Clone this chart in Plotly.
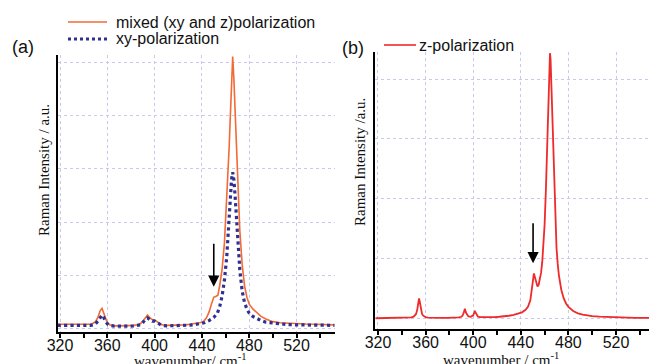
import plotly.graph_objects as go

# ---------------- data: panel (a) ----------------
wn_mixed = [318, 322, 326, 330, 334, 338, 342, 346, 348, 350, 352, 354, 355.5, 357, 358, 360, 362, 366,
            370, 374, 378, 382, 386, 388, 390, 392, 394, 396, 398, 400, 402, 404, 406, 410, 414, 418,
            422, 426, 430, 434, 438, 440, 442, 444, 446, 448, 450, 452, 453.5, 455, 457, 459, 461, 462,
            463, 464, 465, 466, 467, 468, 469, 470, 471, 472, 474, 476, 478, 480, 483, 487, 490, 494,
            500, 506, 512, 520, 528, 536, 544, 552]
int_mixed = [0.07, 0.07, 0.065, 0.06, 0.06, 0.06, 0.06, 0.07, 0.09, 0.12, 0.20, 0.33, 0.37, 0.28, 0.18, 0.10, 0.06, 0.04,
             0.04, 0.04, 0.05, 0.05, 0.06, 0.08, 0.13, 0.20, 0.245, 0.19, 0.16, 0.15, 0.12, 0.08, 0.06, 0.05, 0.05, 0.05,
             0.055, 0.06, 0.07, 0.08, 0.10, 0.11, 0.14, 0.20, 0.30, 0.45, 0.58, 0.60, 0.62, 0.80, 1.10, 1.60, 2.40, 2.90,
             3.40, 4.00, 4.60, 5.12, 4.70, 4.10, 3.50, 2.90, 2.35, 1.85, 1.20, 0.80, 0.58, 0.45, 0.36, 0.28, 0.22, 0.17,
             0.12, 0.10, 0.09, 0.08, 0.075, 0.07, 0.065, 0.06]

wn_xy = [318, 322, 326, 330, 334, 338, 342, 346, 348, 350, 352, 354, 355.5, 357, 358, 360, 362, 366,
         370, 374, 378, 382, 386, 388, 390, 392, 394, 396, 398, 400, 402, 404, 406, 410, 414, 418,
         422, 426, 430, 434, 438, 442, 446, 450, 453, 455, 457, 459, 461, 462, 463, 464, 465, 466,
         467, 468, 469, 470, 471, 472, 474, 476, 478, 480, 483, 486, 490, 494, 500, 506, 512, 520,
         528, 536, 544, 552]
int_xy = [0.05, 0.05, 0.05, 0.045, 0.045, 0.045, 0.045, 0.05, 0.06, 0.08, 0.13, 0.21, 0.245, 0.20, 0.14, 0.08, 0.05, 0.035,
          0.03, 0.03, 0.035, 0.04, 0.05, 0.06, 0.10, 0.16, 0.19, 0.15, 0.13, 0.13, 0.10, 0.07, 0.05, 0.04, 0.04, 0.04,
          0.045, 0.05, 0.055, 0.065, 0.08, 0.10, 0.14, 0.20, 0.28, 0.40, 0.60, 0.90, 1.35, 1.70, 2.10, 2.50, 2.80, 2.94,
          2.80, 2.50, 2.10, 1.75, 1.40, 1.10, 0.70, 0.48, 0.36, 0.28, 0.22, 0.18, 0.14, 0.11, 0.09, 0.075, 0.065, 0.06,
          0.055, 0.05, 0.05, 0.05]

# ---------------- data: panel (b) ----------------
wn_z = [318, 322, 326, 330, 334, 338, 342, 346, 348, 350, 352, 353, 354, 354.5, 355, 356, 357, 358, 360, 362,
        366, 370, 374, 378, 382, 386, 388, 390, 391, 392, 393, 394, 395, 396, 398, 400, 401, 401.5, 402, 403,
        404, 406, 410, 414, 418, 422, 426, 430, 434, 438, 441, 444, 446, 448, 449, 450, 451, 452, 453, 454,
        455, 456, 457, 458, 459, 460, 461, 462, 463, 464, 464.5, 465, 466, 467, 468, 469, 470, 471, 472, 474,
        476, 478, 480, 484, 488, 492, 496, 500, 506, 512, 518, 524, 530, 536, 542, 548]
int_z = [0.012, 0.013, 0.013, 0.014, 0.015, 0.016, 0.017, 0.021, 0.027, 0.039, 0.084, 0.156, 0.30, 0.344, 0.30, 0.157, 0.085, 0.055, 0.032, 0.024,
         0.019, 0.018, 0.017, 0.017, 0.019, 0.021, 0.025, 0.037, 0.054, 0.101, 0.171, 0.103, 0.057, 0.042, 0.037, 0.061, 0.108, 0.124, 0.108, 0.059,
         0.039, 0.030, 0.027, 0.029, 0.032, 0.037, 0.042, 0.054, 0.067, 0.087, 0.111, 0.153, 0.203, 0.312, 0.426, 0.61, 0.759, 0.68, 0.57, 0.54,
         0.57, 0.645, 0.767, 0.946, 1.203, 1.573, 2.103, 2.827, 3.678, 4.332, 4.43, 4.331, 3.674, 2.821, 2.093, 1.558, 1.183, 0.918, 0.728, 0.487,
         0.347, 0.259, 0.202, 0.133, 0.095, 0.073, 0.058, 0.048, 0.038, 0.031, 0.027, 0.024, 0.021, 0.019, 0.018, 0.017]

x_ticks = [320, 360, 400, 440, 480, 520]

ORANGE = "#f26a35"
NAVY = "#2e3192"
RED = "#ee2a2a"
GRID = "#c9c9ef"

fig = go.Figure()
fig.add_trace(go.Scatter(x=wn_mixed, y=int_mixed, mode="lines", line=dict(color=ORANGE, width=1.6),
                         xaxis="x", yaxis="y", showlegend=False))
fig.add_trace(go.Scatter(x=wn_xy, y=int_xy, mode="lines", line=dict(color=NAVY, width=3.2, dash="dot"),
                         xaxis="x", yaxis="y", showlegend=False))
fig.add_trace(go.Scatter(x=wn_z, y=int_z, mode="lines", line=dict(color=RED, width=1.8),
                         xaxis="x2", yaxis="y2", showlegend=False))

W, H = 649, 364
def px(xp):
    return xp / W
def py(yp):
    return 1 - yp / H

xcommon = dict(tickmode="array", tickvals=x_ticks, ticktext=[str(v) for v in x_ticks],
               ticks="outside", ticklen=4, tickwidth=1.5, tickcolor="black", ticklabelstandoff=-6,
               minor=dict(dtick=20, tick0=320, ticks="outside", ticklen=4, tickwidth=1.5, tickcolor="black", showgrid=False),
               showline=True, linecolor="black", linewidth=2,
               showgrid=True, gridcolor=GRID, griddash="dot", gridwidth=1,
               tickfont=dict(family="Liberation Sans, Arial", size=16, color="#111"),
               zeroline=False, fixedrange=True, automargin=False)
ycommon = dict(showticklabels=False, ticks="", dtick=1, tick0=0,
               showline=True, linecolor="black", linewidth=2,
               showgrid=True, gridcolor=GRID, griddash="dot", gridwidth=1,
               zeroline=False, fixedrange=True, automargin=False)

fig.update_layout(
    width=W, height=H, margin=dict(l=0, r=0, t=0, b=0, autoexpand=False),
    paper_bgcolor="white", plot_bgcolor="white",
    xaxis=dict(domain=[px(58), px(335)], range=[318.3, 552.5], anchor="y", **xcommon),
    yaxis=dict(domain=[py(332), py(55)], range=[-0.075, 5.15], anchor="x", **ycommon),
    xaxis2=dict(domain=[px(375), 1.0], range=[317.5, 547.7], anchor="y2", **xcommon),
    yaxis2=dict(domain=[py(329), py(52)], range=[-0.167, 4.45], anchor="x2", **ycommon),
)

ann = []
sans = "Liberation Sans, Arial"
serif = "Liberation Serif, Times New Roman"
# panel labels
ann.append(dict(x=px(10), y=py(47), xref="paper", yref="paper", text="(a)", showarrow=False,
                xanchor="left", yanchor="middle", font=dict(family=sans, size=18, color="#111")))
ann.append(dict(x=px(340), y=py(48), xref="paper", yref="paper", text="(b)", showarrow=False,
                xanchor="left", yanchor="middle", font=dict(family=sans, size=18, color="#111")))
# legends
ann.append(dict(x=px(114), y=py(22), xref="paper", yref="paper", text="mixed (xy and z)polarization", showarrow=False,
                xanchor="left", yanchor="middle", font=dict(family=sans, size=16, color="#111")))
ann.append(dict(x=px(114), y=py(39), xref="paper", yref="paper", text="xy-polarization", showarrow=False,
                xanchor="left", yanchor="middle", font=dict(family=sans, size=16, color="#111")))
ann.append(dict(x=px(417), y=py(45), xref="paper", yref="paper", text="z-polarization", showarrow=False,
                xanchor="left", yanchor="middle", font=dict(family=sans, size=16, color="#111")))
# axis titles
ann.append(dict(x=px(44), y=py(170), xref="paper", yref="paper", text="Raman Intensity / a.u.", showarrow=False,
                textangle=-90, xanchor="center", yanchor="middle", font=dict(family=serif, size=15, color="#111")))
ann.append(dict(x=px(360), y=py(162), xref="paper", yref="paper", text="Raman Intensity /a.u.", showarrow=False,
                textangle=-90, xanchor="center", yanchor="middle", font=dict(family=serif, size=15, color="#111")))
ann.append(dict(x=px(190), y=py(360), xref="paper", yref="paper", text="wavenumber/ cm<sup>-1</sup>", showarrow=False,
                xanchor="center", yanchor="middle", font=dict(family=serif, size=15, color="#111")))
ann.append(dict(x=px(501), y=py(359), xref="paper", yref="paper", text="wavenumber / cm<sup>-1</sup>", showarrow=False,
                xanchor="center", yanchor="middle", font=dict(family=serif, size=15, color="#111")))
# arrows marking the shoulder
ann.append(dict(x=450, y=0.78, xref="x", yref="y", ax=450, ay=1.62, axref="x", ayref="y", text="",
                showarrow=True, arrowhead=2, arrowsize=1.4, arrowwidth=1.6, arrowcolor="black"))
ann.append(dict(x=450.3, y=0.93, xref="x2", yref="y2", ax=450.3, ay=1.62, axref="x2", ayref="y2", text="",
                showarrow=True, arrowhead=2, arrowsize=1.4, arrowwidth=1.6, arrowcolor="black"))
fig.update_layout(annotations=ann)

# legend line samples
fig.add_shape(type="line", xref="paper", yref="paper", x0=px(68), x1=px(107), y0=py(22), y1=py(22),
              line=dict(color=ORANGE, width=1.6))
fig.add_shape(type="line", xref="paper", yref="paper", x0=px(68), x1=px(107), y0=py(39), y1=py(39),
              line=dict(color=NAVY, width=3, dash="dot"))
fig.add_shape(type="line", xref="paper", yref="paper", x0=px(384), x1=px(416), y0=py(45), y1=py(45),
              line=dict(color=RED, width=1.6))

fig.write_html("out.html", config={"displayModeBar": False},
               post_script="document.body.style.margin='0';document.body.style.padding='0';document.body.style.overflow='hidden';")
